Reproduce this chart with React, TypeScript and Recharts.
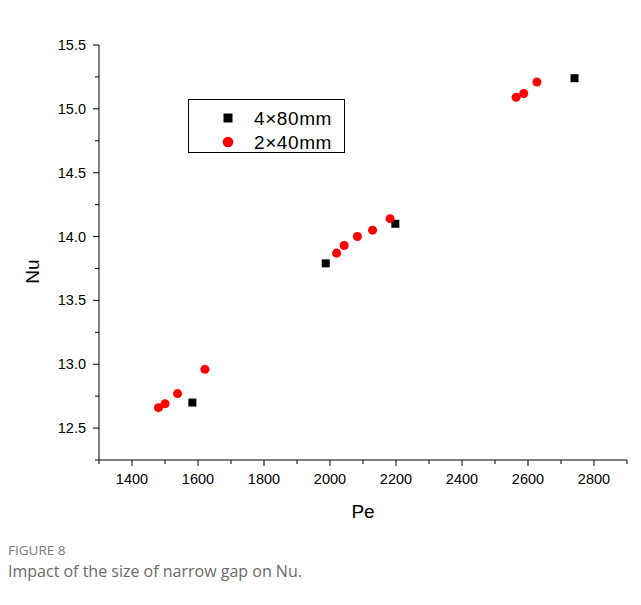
import React from 'react';
import { ScatterChart, Scatter, XAxis, YAxis, Legend, Label } from 'recharts';

const seriesNames = ['4×80mm', '2×40mm'];
const seriesColors = ['#000000', '#ff0000'];

const peLarge = [1583, 1987, 2198, 2741];
const nuLarge = [12.7, 13.79, 14.1, 15.24];

const peSmall = [1480, 1500, 1538, 1621, 2020, 2043, 2083, 2129, 2182, 2564, 2587, 2627];
const nuSmall = [12.66, 12.69, 12.77, 12.96, 13.87, 13.93, 14.0, 14.05, 14.14, 15.09, 15.12, 15.21];

const xTicks = [1300, 1400, 1500, 1600, 1700, 1800, 1900, 2000, 2100, 2200, 2300, 2400, 2500, 2600, 2700, 2800, 2900];
const yTicks = [12.25, 12.5, 12.75, 13.0, 13.25, 13.5, 13.75, 14.0, 14.25, 14.5, 14.75, 15.0, 15.25, 15.5];

const dataLarge = peLarge.map((pe, i) => ({ pe, nu: nuLarge[i] }));
const dataSmall = peSmall.map((pe, i) => ({ pe, nu: nuSmall[i] }));

const FONT = 'Arial, "Liberation Sans", sans-serif';

const XTick = (props: any) => {
  const { x, y, payload } = props;
  const v = payload.value;
  const major = v % 200 === 0;
  return (
    <g>
      <line x1={x} x2={x} y1={y} y2={y + (major ? 6 : 4)} stroke="#000" strokeWidth={1} />
      {major && (
        <text x={x} y={y + 19} textAnchor="middle" dominantBaseline="central" fontSize={14.5} fontFamily={FONT} fill="#000">
          {v}
        </text>
      )}
    </g>
  );
};

const YTick = (props: any) => {
  const { x, y, payload } = props;
  const v = payload.value;
  const major = Math.abs(v * 2 - Math.round(v * 2)) < 1e-6;
  return (
    <g>
      <line x1={x} x2={x - (major ? 6 : 4)} y1={y} y2={y} stroke="#000" strokeWidth={1} />
      {major && (
        <text x={x - 13} y={y} textAnchor="end" dominantBaseline="central" fontSize={14.5} fontFamily={FONT} fill="#000">
          {v.toFixed(1)}
        </text>
      )}
    </g>
  );
};

const LegendBox = () => {
  return (
    <svg width={157} height={54} style={{ display: 'block' }}>
      <rect x={0.5} y={0.5} width={156} height={53} fill="#fff" stroke="#000" strokeWidth={1} />
      {seriesNames.map((name, i) => {
        const cy = 19 + i * 24;
        const color = seriesColors[i];
        return (
          <g key={name}>
            {i === 0 ? (
              <rect x={40 - 4.5} y={cy - 4.5} width={9} height={9} fill={color} />
            ) : (
              <circle cx={40} cy={cy} r={5.3} fill={color} />
            )}
            <text x={66} y={cy} dominantBaseline="central" fontSize={19} letterSpacing={0.6} fontFamily={FONT} fill="#000">
              {name}
            </text>
          </g>
        );
      })}
    </svg>
  );
};

export default function App() {
  return (
    <div style={{ position: 'relative', width: 641, height: 605, margin: -8, background: '#fff', overflow: 'hidden' }}>
      <div
        style={{
          position: 'absolute',
          left: 3,
          top: 5,
          width: 700,
          height: 700,
          borderTop: '2px solid #d4d4d4',
          borderLeft: '2px solid #d4d4d4',
        }}
      />
      <div style={{ position: 'absolute', left: 0, top: 0 }}>
        <ScatterChart width={641} height={530} margin={{ top: 45, right: 14, left: 39, bottom: 40 }}>
          <XAxis
            dataKey="pe"
            type="number"
            domain={[1300, 2900]}
            ticks={xTicks}
            interval={0}
            tickSize={0}
            tickMargin={0}
            tickLine={false}
            tick={<XTick />}
            height={30}
            axisLine={{ stroke: '#000', strokeWidth: 1 }}
            allowDataOverflow
          >
            <Label
              content={(p: any) => {
                const vb = p.viewBox || {};
                return (
                  <text x={vb.x + vb.width / 2} y={vb.y + 51} textAnchor="middle" dominantBaseline="central" fontSize={19} fontFamily={FONT} fill="#000">
                    Pe
                  </text>
                );
              }}
            />
          </XAxis>
          <YAxis
            dataKey="nu"
            type="number"
            domain={[12.25, 15.5]}
            ticks={yTicks}
            interval={0}
            tickSize={0}
            tickMargin={0}
            tickLine={false}
            tick={<YTick />}
            width={60}
            axisLine={{ stroke: '#000', strokeWidth: 1 }}
            allowDataOverflow
          >
            <Label
              content={(p: any) => {
                const vb = p.viewBox || {};
                const cx = vb.x - 7;
                const cy = vb.y + vb.height / 2 + 19;
                return (
                  <text x={cx} y={cy} transform={`rotate(-90 ${cx} ${cy})`} textAnchor="middle" dominantBaseline="central" fontSize={19} fontFamily={FONT} fill="#000">
                    Nu
                  </text>
                );
              }}
            />
          </YAxis>
          <Legend
            layout="vertical"
            align="center"
            verticalAlign="middle"
            wrapperStyle={{ position: 'absolute', left: 188, top: 99, width: 157, height: 54 }}
            content={<LegendBox />}
          />
          <Scatter name={seriesNames[0]} data={dataLarge} fill={seriesColors[0]} shape="square" size={81} isAnimationActive={false} />
          <Scatter name={seriesNames[1]} data={dataSmall} fill={seriesColors[1]} shape="circle" size={100} isAnimationActive={false} />
        </ScatterChart>
      </div>
      <div
        style={{
          position: 'absolute',
          left: 8,
          top: 541,
          fontFamily: '"Open Sans", sans-serif',
          fontSize: 13.5,
          color: '#7a7a7a',
          lineHeight: '18px',
        }}
      >
        FIGURE 8
      </div>
      <div
        style={{
          position: 'absolute',
          left: 8,
          top: 560,
          fontFamily: '"Open Sans", sans-serif',
          fontSize: 16,
          color: '#6a6a6a',
          lineHeight: '22px',
        }}
      >
        Impact of the size of narrow gap on Nu.
      </div>
    </div>
  );
}
